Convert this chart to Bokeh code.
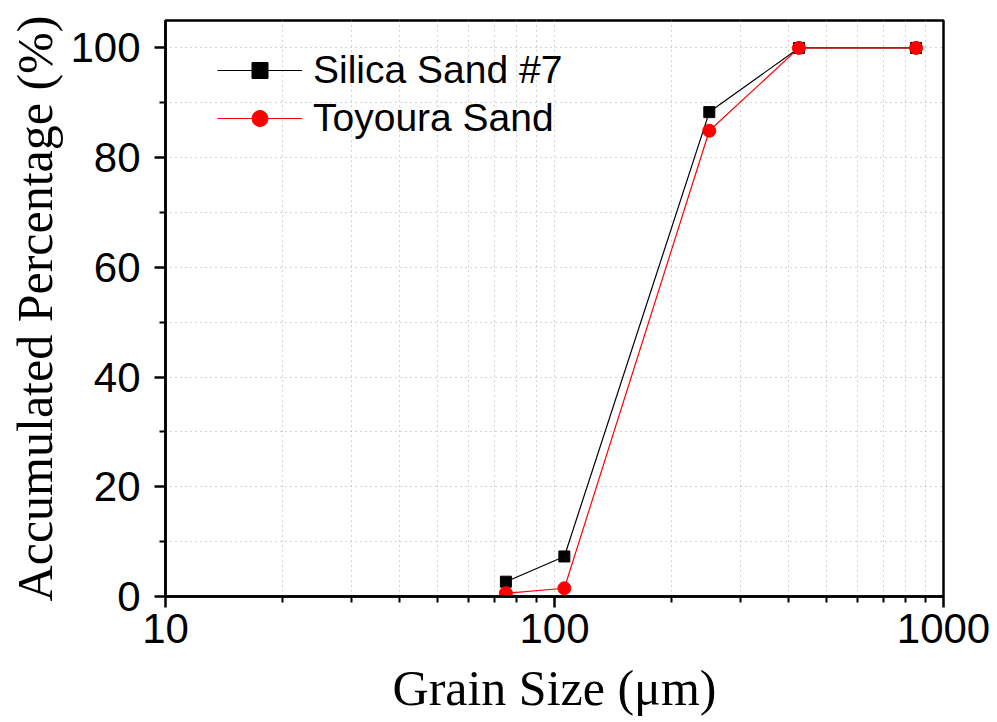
from bokeh.plotting import figure
from bokeh.models import FixedTicker, Range1d, Legend, LegendItem, PrintfTickFormatter
from bokeh.embed import file_html
from bokeh.resources import INLINE

# Sieve analysis: accumulated passing percentage by grain size
grain_size = [75, 106, 250, 425, 850]
silica_sand_7 = [2.7, 7.3, 88.3, 100, 100]
toyoura_sand = [0.6, 1.5, 84.9, 100, 100]

x_major = [10, 100, 1000]
x_minor = [20, 30, 40, 50, 60, 70, 80, 90, 200, 300, 400, 500, 600, 700, 800, 900]
y_major = [0, 20, 40, 60, 80, 100]
y_minor = [10, 30, 50, 70, 90]

p = figure(width=997, height=722, x_axis_type="log",
           x_range=Range1d(10, 1000), y_range=Range1d(0, 105),
           output_backend="svg", toolbar_location=None,
           min_border_left=165, min_border_right=54,
           min_border_top=20, min_border_bottom=126)

p.background_fill_color = "white"
p.border_fill_color = "white"
p.outline_line_color = "black"
p.outline_line_width = 2.5

p.xaxis.ticker = FixedTicker(ticks=x_major, minor_ticks=x_minor)
p.yaxis.ticker = FixedTicker(ticks=y_major, minor_ticks=y_minor)
p.xaxis.formatter = PrintfTickFormatter(format="%d")

for ax in (p.xaxis, p.yaxis):
    ax.axis_line_color = "black"
    ax.axis_line_width = 2.5
    ax.major_tick_line_color = "black"
    ax.major_tick_line_width = 2.5
    ax.minor_tick_line_color = "black"
    ax.minor_tick_line_width = 2
    ax.major_tick_in = 0
    ax.major_tick_out = 11
    ax.minor_tick_in = 0
    ax.minor_tick_out = 6
    ax.major_label_text_font = "Liberation Sans"
    ax.major_label_text_font_size = "42px"
    ax.major_label_text_color = "black"
    ax.axis_label_text_font = "Liberation Serif"
    ax.axis_label_text_font_size = "50px"
    ax.axis_label_text_font_style = "normal"
    ax.axis_label_text_color = "black"

p.xaxis.axis_label = "Grain Size (\u03bcm)"
p.yaxis.axis_label = "Accumulated Percentage (%)"
p.xaxis.major_label_standoff = 6
p.yaxis.major_label_standoff = 14
p.xaxis.axis_label_standoff = 14
p.yaxis.axis_label_standoff = 4

for g in (p.xgrid, p.ygrid):
    g.grid_line_color = "#a8a8a8"
    g.grid_line_width = 1
    g.grid_line_dash = "1 4"
    g.minor_grid_line_color = "#a8a8a8"
    g.minor_grid_line_width = 1
    g.minor_grid_line_dash = "1 4"

l1 = p.line(grain_size, silica_sand_7, line_color="black", line_width=1.2)
m1 = p.scatter(grain_size, silica_sand_7, marker="square", size=11,
               fill_color="black", line_color="black")
l2 = p.line(grain_size, toyoura_sand, line_color="red", line_width=1.2)
m2 = p.scatter(grain_size, toyoura_sand, marker="circle", size=13,
               fill_color="red", line_color="red")

legend = Legend(items=[LegendItem(label="Silica Sand #7", renderers=[l1, m1]),
                       LegendItem(label="Toyoura Sand", renderers=[l2, m2])],
                location=(52, 456))
legend.label_text_font = "Liberation Sans"
legend.label_text_font_size = "39px"
legend.label_text_color = "black"
legend.glyph_width = 85
legend.glyph_height = 40
legend.label_height = 40
legend.label_standoff = 11
legend.spacing = 4
legend.padding = 0
legend.margin = 0
legend.border_line_color = None
legend.background_fill_alpha = 0
p.add_layout(legend)

open("out.html", "w").write(file_html(p, INLINE))
